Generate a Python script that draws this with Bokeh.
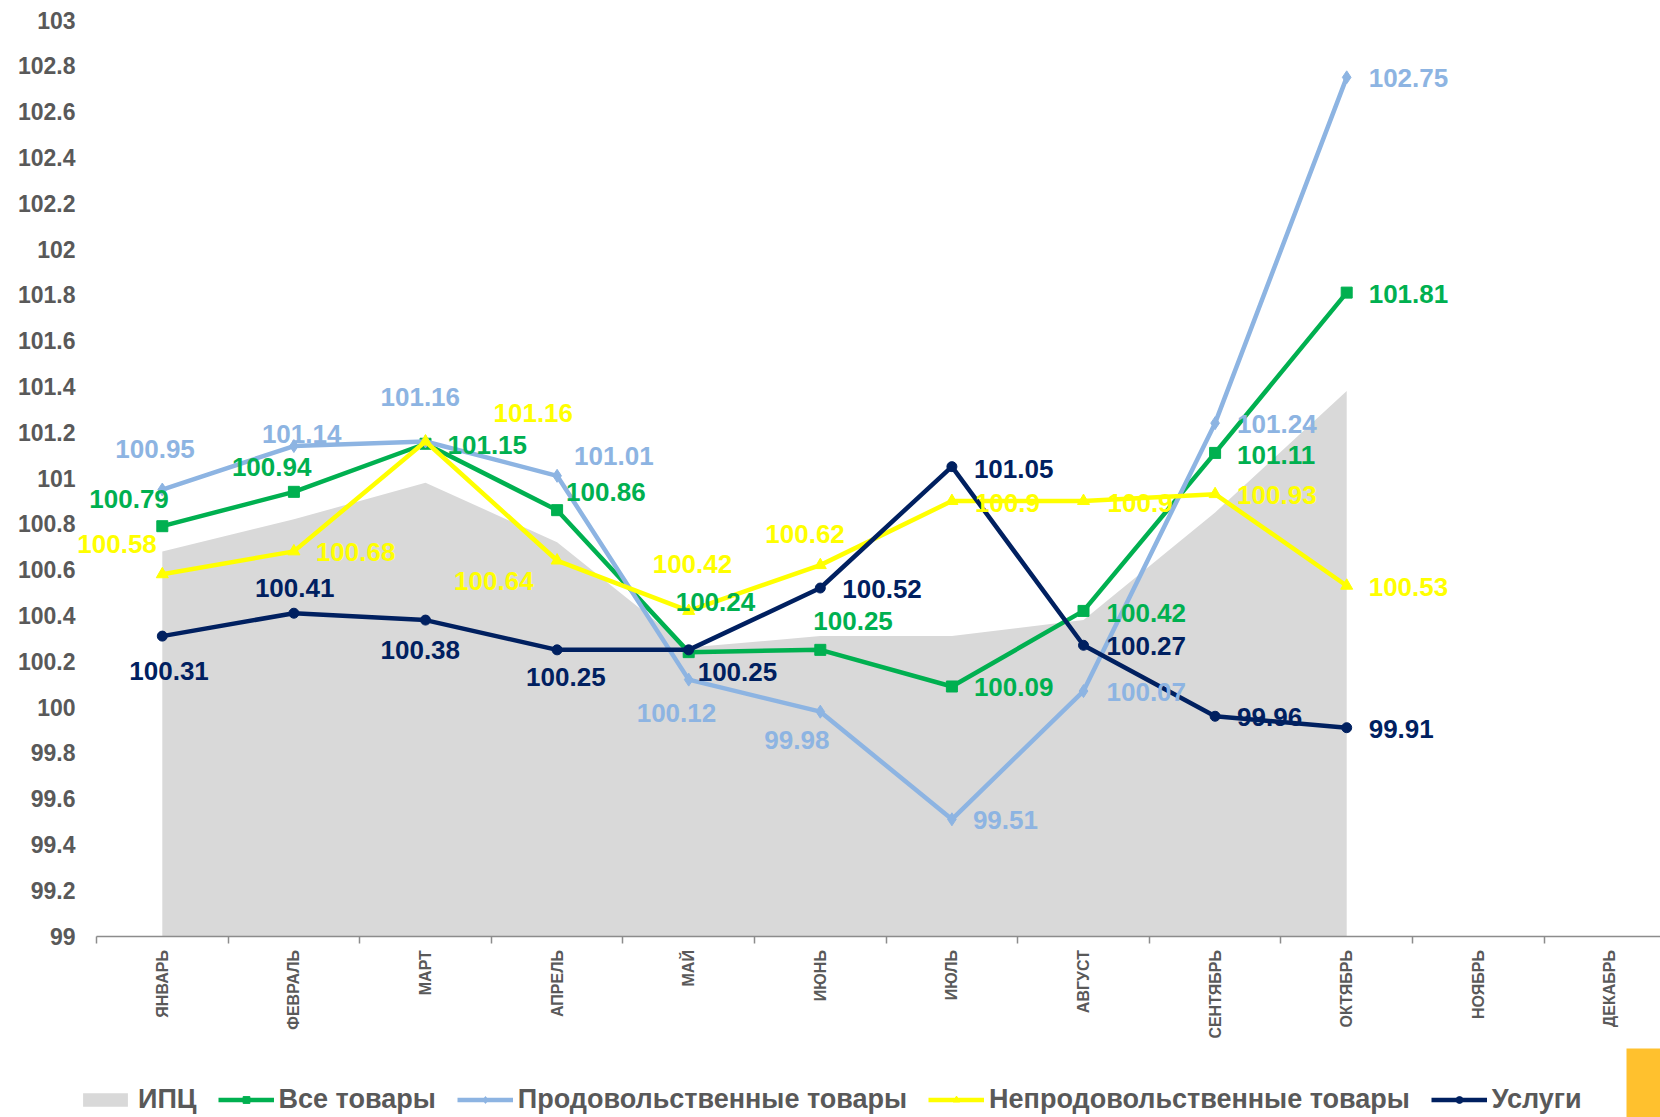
import math
from bokeh.plotting import figure
from bokeh.models import (Range1d, FixedTicker, CustomJSTickFormatter, Legend, LegendItem,
                          ColumnDataSource, BoxAnnotation)
from bokeh.core.properties import value
from bokeh.embed import file_html
from bokeh.resources import INLINE

# ---------------- data ----------------
months = ["ЯНВАРЬ", "ФЕВРАЛЬ", "МАРТ", "АПРЕЛЬ", "МАЙ", "ИЮНЬ", "ИЮЛЬ",
          "АВГУСТ", "СЕНТЯБРЬ", "ОКТЯБРЬ", "НОЯБРЬ", "ДЕКАБРЬ"]
cpi = [100.68, 100.82, 100.98, 100.72, 100.26, 100.31, 100.31, 100.38, 100.85, 101.38]
all_goods = [100.79, 100.94, 101.15, 100.86, 100.24, 100.25, 100.09, 100.42, 101.11, 101.81]
food = [100.95, 101.14, 101.16, 101.01, 100.12, 99.98, 99.51, 100.07, 101.24, 102.75]
nonfood = [100.58, 100.68, 101.16, 100.64, 100.42, 100.62, 100.9, 100.9, 100.93, 100.53]
services = [100.31, 100.41, 100.38, 100.25, 100.25, 100.52, 101.05, 100.27, 99.96, 99.91]
series_names = ["ИПЦ", "Все товары", "Продовольственные товары",
                "Непродовольственные товары", "Услуги"]
y_ticks = [round(99 + 0.2 * i, 1) for i in range(21)]

# label placement (screen px offsets of label's left edge / vertical centre from the point)
off_green = [(-73, -27), (-62, -25), (22, 1), (9, -18), (-13, -50), (-7, -29), (22, 1), (23, 2), (22, 2), (22, 1)]
off_food = [(-47, -41), (-32, -12), (-45, -44), (17, -20), (-52, 33), (-56, 28), (21, 1), (23, 1), (22, 1), (22, 1)]
off_nonfood = [(-85, -30), (22, 1), (68, -28), (-103, 20), (-36, -47), (-55, -31), (23, 2), (24, 2), (22, 1), (22, 1)]
off_serv = [(-33, 35), (-39, -25), (-45, 30), (-31, 27), (9, 22), (22, 1), (22, 2), (23, 1), (22, 1), (22, 1)]

# ---------------- styles / geometry ----------------
FONT = "Liberation Sans"
GRAY_TXT = "#595959"
C_CPI = "#D9D9D9"
C_GREEN = "#00B050"
C_FOOD = "#8DB4E2"
C_NONFOOD = "#FFFF00"
C_SERV = "#002060"
C_AXIS = "#8C8C8C"
C_CORNER = "#FFC12E"

W, H = 1660, 1117
CAT_PX = 131.6          # px per month
Y_PX = 229.0            # px per index point
AX_LEFT_PX = 96         # where x = -0.5 sits
TOP_103_PX = 19.6       # where y = 103 sits
x0 = -0.5 - AX_LEFT_PX / CAT_PX
x1 = x0 + W / CAT_PX
y1 = 103 + TOP_103_PX / Y_PX
y0 = y1 - H / Y_PX

p = figure(width=W, height=H, output_backend="svg", toolbar_location=None,
           x_range=Range1d(x0, x1), y_range=Range1d(y0, y1),
           min_border_left=0, min_border_top=0, min_border_bottom=0, min_border_right=0)
p.outline_line_color = None
p.xgrid.visible = False
p.ygrid.visible = False
p.background_fill_color = "white"
p.border_fill_color = "white"

n = len(cpi)
xs = list(range(n))

area = p.varea(x=xs, y1=[99] * n, y2=cpi, fill_color=C_CPI, fill_alpha=1)

items = [LegendItem(label=series_names[0], renderers=[area])]

specs = [
    (all_goods, C_GREEN, "square", 11, off_green, series_names[1]),
    (food, C_FOOD, "diamond", 13, off_food, series_names[2]),
    (nonfood, C_NONFOOD, "triangle", 12, off_nonfood, series_names[3]),
    (services, C_SERV, "circle", 10, off_serv, series_names[4]),
]
label_sources = []
for vals, col, mk, sz, offs, name in specs:
    src = ColumnDataSource(dict(x=xs, y=vals))
    lr = p.line("x", "y", source=src, line_color=col, line_width=4.5)
    sr = p.scatter("x", "y", source=src, marker=mk, size=sz, fill_color=col, line_color=col)
    items.append(LegendItem(label=name, renderers=[lr, sr]))
    label_sources.append((ColumnDataSource(dict(
        x=xs, y=vals, t=[f"{v:g}" for v in vals],
        dx=[o[0] for o in offs], dy=[o[1] for o in offs])), col))

for src, col in label_sources:
    p.text("x", "y", text="t", source=src, x_offset="dx", y_offset="dy",
           text_color=col, text_font=value(FONT), text_font_style="bold",
           text_font_size="26px", text_align="left", text_baseline="middle")

# ---------------- axes (pinned inside the frame) ----------------
xa = p.xaxis[0]
xa.fixed_location = 99
xa.bounds = (-0.5, 11.5)
xa.ticker = FixedTicker(ticks=list(range(12)), minor_ticks=[i - 0.5 for i in range(13)])
xa.formatter = CustomJSTickFormatter(args=dict(m=months), code="return m[Math.round(tick)] || '';")
xa.major_label_orientation = math.pi / 2
xa.axis_line_color = C_AXIS
xa.axis_line_width = 1.5
xa.major_tick_line_color = None
xa.major_tick_out = 0
xa.major_tick_in = 0
xa.minor_tick_line_color = C_AXIS
xa.minor_tick_line_width = 1.5
xa.minor_tick_out = 7
xa.minor_tick_in = 0
xa.major_label_standoff = 7
xa.major_label_text_font = FONT
xa.major_label_text_font_style = "bold"
xa.major_label_text_font_size = "16px"
xa.major_label_text_color = GRAY_TXT

ya = p.yaxis[0]
ya.fixed_location = -0.5
ya.ticker = FixedTicker(ticks=y_ticks)
ya.formatter = CustomJSTickFormatter(code="return (Math.round(tick*10)/10).toString();")
ya.axis_line_color = None
ya.major_tick_line_color = None
ya.minor_tick_line_color = None
ya.major_tick_out = 0
ya.major_label_standoff = 21
ya.major_label_text_font = FONT
ya.major_label_text_font_style = "bold"
ya.major_label_text_font_size = "23px"
ya.major_label_text_color = GRAY_TXT

# ---------------- legend ----------------
legend = Legend(items=items, location=(77, 2), orientation="horizontal",
                label_text_font=FONT, label_text_font_style="bold",
                label_text_font_size="27px", label_text_color=GRAY_TXT,
                glyph_width=56, glyph_height=17, label_standoff=5, spacing=21,
                padding=0, margin=0, border_line_color=None, background_fill_alpha=0)
p.add_layout(legend)

# decorative corner block (screen units: y measured from the bottom)
box = BoxAnnotation(left=1626, right=1660, top=69, bottom=0,
                    left_units="screen", right_units="screen",
                    top_units="screen", bottom_units="screen",
                    fill_color=C_CORNER, fill_alpha=1, line_color=None)
p.add_layout(box)

open("out.html", "w").write(file_html(p, INLINE))
